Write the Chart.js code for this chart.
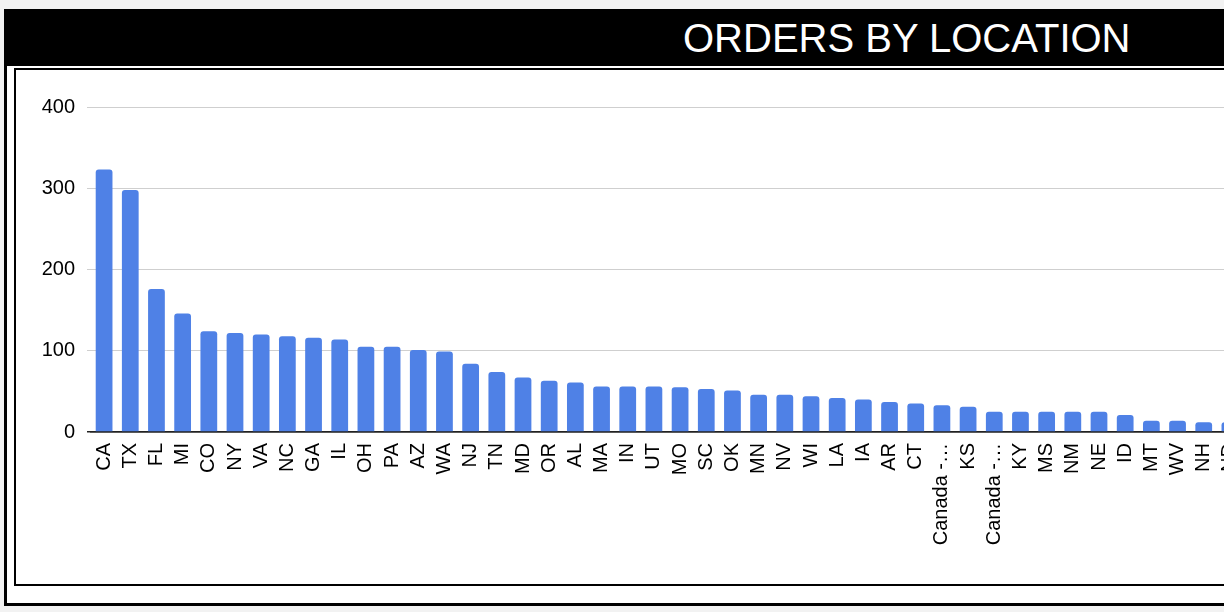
<!DOCTYPE html>
<html>
<head>
<meta charset="utf-8">
<title>Orders by location</title>
<script src="https://cdn.jsdelivr.net/npm/chart.js@4"></script>
<style>
  body {
    margin: 0;
    width: 1224px;
    height: 612px;
    overflow: hidden;
    position: relative;
    background: #f2f2f2;
    font-family: "Liberation Sans", Arial, sans-serif;
  }
  #frame {
    position: absolute; left: 4px; top: 9px;
    width: 1260px; height: 591px;
    border: 3px solid #000; border-right: none;
    background: #fff;
  }
  #header {
    position: absolute; left: 4px; top: 9px;
    width: 1263px; height: 57px;
    background: #000;
  }
  #title {
    position: absolute; left: 683px; top: 18px;
    font-size: 40px; line-height: 40px;
    color: #fff; white-space: nowrap;
  }
  #panel {
    position: absolute; left: 14px; top: 68px;
    width: 1260px; height: 514px;
    border: 2px solid #000; border-right: none;
    background: #fff;
  }
  #wrap {
    position: absolute; left: 16px; top: 70px;
    width: 1260px; height: 514px;
  }
</style>
</head>
<body>
<div id="frame"></div>
<div id="header"></div>
<div id="title">ORDERS BY LOCATION</div>
<div id="panel"></div>
<div id="wrap"><canvas id="ordersChart"></canvas></div>

<script>
// Localidades (o gráfico original está cortado na borda direita)
var locais = ["CA", "TX", "FL", "MI", "CO", "NY", "VA", "NC", "GA", "IL",
   "OH", "PA", "AZ", "WA", "NJ", "TN", "MD", "OR", "AL", "MA",
   "IN", "UT", "MO", "SC", "OK", "MN", "NV", "WI", "LA", "IA",
   "AR", "CT", "Canada -…", "KS", "Canada -…", "KY", "MS", "NM", "NE", "ID",
   "MT", "WV", "NH", "ND"];

// Pedidos por localidade
var pedidos = [323, 298, 176, 146, 124, 122, 120, 118, 116, 114,
   105, 105, 101, 99, 84, 74, 67, 63, 61, 56,
   56, 56, 55, 53, 51, 46, 46, 44, 42, 40,
   37, 35, 33, 31, 25, 25, 25, 25, 25, 21,
   14, 14, 12, 12];

var eixoY = { min: 0, max: 400, passo: 100 };

var fonte = { family: "'Liberation Sans', Arial, sans-serif", size: 20 };

var ordersChart = new Chart(
   document.getElementById("ordersChart").getContext("2d"),
   {
      type: "bar",
      data: {
         labels: locais,
         datasets: [
            {
               label: "Orders",
               data: pedidos,
               backgroundColor: "#4f81e6",
               borderWidth: 0,
               borderRadius: { topLeft: 3, topRight: 3, bottomLeft: 0, bottomRight: 0 },
               borderSkipped: false,
               categoryPercentage: 1,
               barPercentage: 0.64,
            },
         ],
      },
      options: {
         responsive: true,
         maintainAspectRatio: false,
         animation: false,
         layout: {
            padding: { top: 37, right: 33, bottom: 0, left: 0 },
         },
         scales: {
            x: {
               grid: { display: false, drawTicks: false },
               border: { display: true, color: "#222", width: 1.5 },
               ticks: {
                  autoSkip: false,
                  maxRotation: 90,
                  minRotation: 90,
                  padding: 11,
                  color: "#000",
                  font: fonte,
               },
               afterFit: function (scale) {
                  scale.height = 152;
               },
            },
            y: {
               min: eixoY.min,
               max: eixoY.max,
               border: { display: false },
               grid: {
                  color: function (ctx) {
                     return ctx.tick && ctx.tick.value === 0 ? "#222" : "#cfcfcf";
                  },
                  lineWidth: function (ctx) {
                     return ctx.tick && ctx.tick.value === 0 ? 1.5 : 1;
                  },
                  tickLength: 4,
               },
               ticks: {
                  stepSize: eixoY.passo,
                  padding: 12,
                  color: "#000",
                  font: fonte,
               },
               afterFit: function (scale) {
                  scale.width = 75;
               },
            },
         },
         plugins: {
            legend: { display: false },
            tooltip: { enabled: false },
            title: { display: false },
         },
      },
   }
);
</script>
</body>
</html>
